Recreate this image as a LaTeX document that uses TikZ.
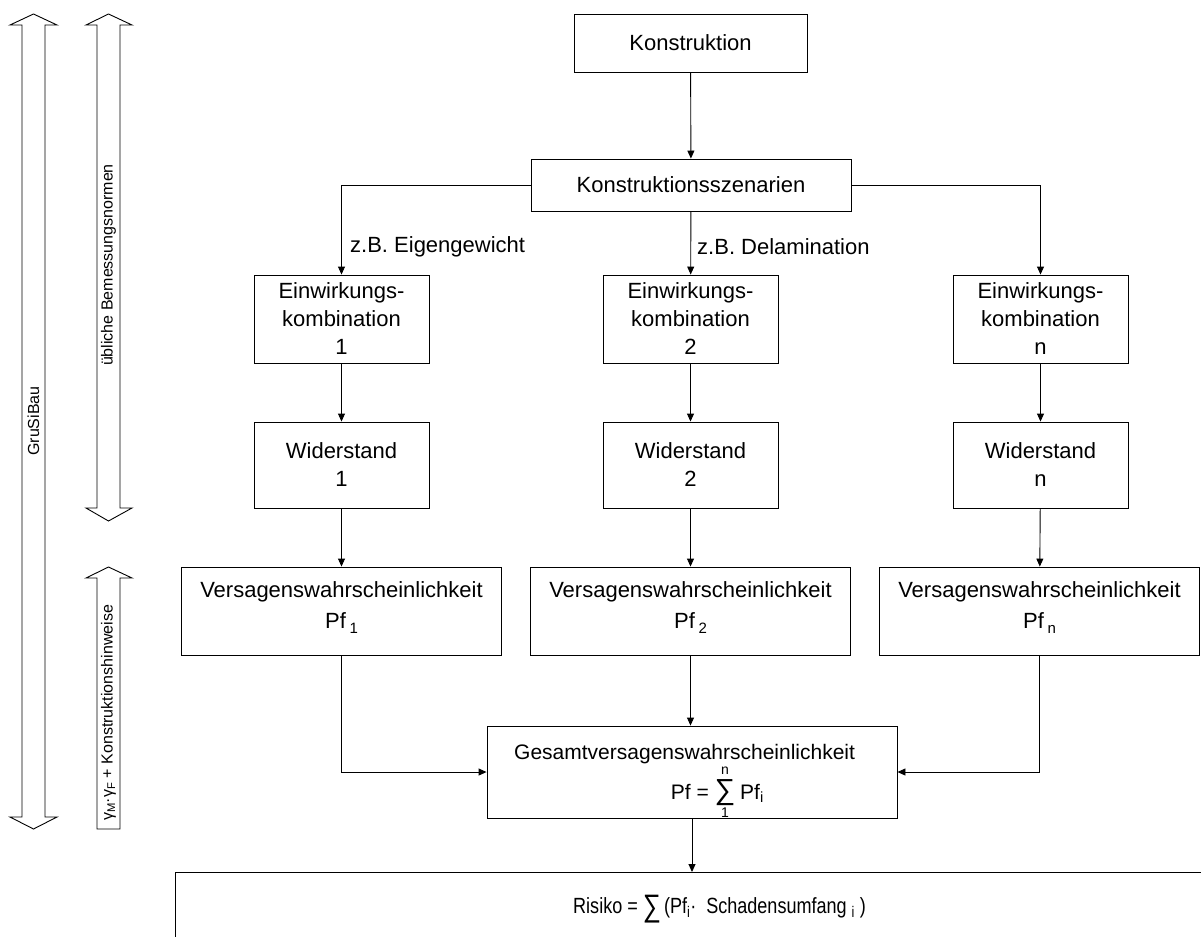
\documentclass[tikz,border=0pt]{standalone}
\usepackage{fontspec}
\setmainfont{Liberation Sans}
\usetikzlibrary{arrows.meta}
\newcommand{\mfs}{\fontsize{22}{28}\selectfont}
\newcommand{\gfs}{\fontsize{21}{28}\selectfont}
\newcommand{\sfs}{\fontsize{16}{19}\selectfont}
\tikzset{
  box/.style={draw, line width=0.9pt, align=center, inner sep=0pt, font=\mfs},
  colbox/.style={box, minimum width=175pt},
  pfbox/.style={box, minimum width=320pt, minimum height=88pt},
  conn/.style={draw, line width=0.9pt, -{Triangle[length=8pt,width=7pt]}},
  lbl/.style={font=\mfs, inner sep=0pt, anchor=west},
  side/.style={font=\sfs, inner sep=0pt, rotate=90},
  bigarrow/.style={draw, line width=0.9pt}
}
\begin{document}
\begin{tikzpicture}[x=1pt,y=-1pt]
\useasboundingbox (0,0) rectangle (1201,937);
% side arrows
\draw[bigarrow] (22,25) -- (10,25) -- (33.5,14) -- (57,25) -- (45,25) -- (45,817) -- (57,817) -- (33.5,829) -- (10,817) -- (22,817) -- cycle;
\draw[bigarrow] (97,25) -- (86,25) -- (108.5,14) -- (132,25) -- (120,25) -- (120,508) -- (132,508) -- (108.5,521) -- (86,508) -- (97,508) -- cycle;
\draw[bigarrow] (97,578) -- (86,578) -- (108.5,567) -- (132,578) -- (120,578) -- (120,829) -- (97,829) -- cycle;
\node[side] (grusi) at (33.5,421) {GruSiBau};
\node[side] (norm) at (108.5,265) {übliche Bemessungsnormen};
\node[side] (gam) at (108.5,713) {γ\textsubscript{M}·γ\textsubscript{F} + Konstruktionshinweise};
% main boxes
\node[box, minimum width=233pt, minimum height=58pt] (k) at (690.5,43) {Konstruktion};
\node[box, minimum width=320pt, minimum height=52pt] (s) at (691,185) {Konstruktionsszenarien};
\node[colbox, minimum height=88pt] (e1) at (341.5,319) {Einwirkungs-\\kombination\\1};
\node[colbox, minimum height=88pt] (e2) at (690.5,319) {Einwirkungs-\\kombination\\2};
\node[colbox, minimum height=88pt] (en) at (1040.5,319) {Einwirkungs-\\kombination\\n};
\node[colbox, minimum height=86pt] (w1) at (341.5,465) {Widerstand\\1};
\node[colbox, minimum height=86pt] (w2) at (690.5,465) {Widerstand\\2};
\node[colbox, minimum height=86pt] (wn) at (1040.5,465) {Widerstand\\n};
\node[pfbox] (p1) at (341.5,611) {};
\node[pfbox] (p2) at (690.5,611) {};
\node[pfbox] (pn) at (1039.5,611) {};
\foreach \n/\x/\s in {p1/341.5/1, p2/690.5/2, pn/1039.5/n}{
  \node[font=\mfs, inner sep=0pt] (\n t) at (\x,592) {Versagenswahrscheinlichkeit};
  \node[font=\mfs, inner sep=0pt, anchor=base] (\n f) at (\x,628) {Pf\,\raisebox{-5pt}{\fontsize{15}{17}\selectfont\s}};
}
\node[box, minimum width=410pt, minimum height=92pt] (g) at (692,772) {};
\node[font=\gfs, inner sep=0pt, anchor=west] (gt) at (514,754) {Gesamtversagenswahrscheinlichkeit};
\node[font=\gfs, inner sep=0pt, anchor=base east] (gpf) at (709,799) {Pf =};
\node[font=\fontsize{29}{32}\selectfont, inner sep=0pt] (gsum) at (725,793) {∑};
\node[font=\fontsize{14}{16}\selectfont, inner sep=0pt] (gn) at (725,771) {n};
\node[font=\fontsize{14}{16}\selectfont, inner sep=0pt] (g1) at (725,813) {1};
\node[font=\gfs, inner sep=0pt, anchor=base west] (gpfi) at (740,799) {Pf\textsubscript{i}};
% labels
\node[lbl] (l1) at (350,247) {z.B. Eigengewicht};
\node[lbl] (l2) at (697,247) {z.B. Delamination};
% Risiko
\draw[line width=0.9pt] (1201,872) -- (175,872) -- (175,937);
\coordinate (rtop) at (692,872);
\node[inner sep=0pt, anchor=base west] (r) at (573,913) {\scalebox{0.82}[1]{\mfs Risiko = \raisebox{-3pt}{\fontsize{31}{31}\selectfont ∑}\,(Pf\textsubscript{i}·\ \ Schadensumfang \textsubscript{i} )}};
% connectors
\draw[conn] (k) -- (s);
\draw[conn] (s.west) -| (e1.north);
\draw[conn] (s) -- (e2);
\draw[conn] (s.east) -| (en.north);
\draw[conn] (e1) -- (w1);
\draw[conn] (e2) -- (w2);
\draw[conn] (en) -- (wn);
\draw[conn] (w1) -- (p1);
\draw[conn] (w2) -- (p2);
\draw[conn] (wn) -- (pn);
\draw[conn] (p1.south) |- (g.west);
\draw[conn] (p2.south) -- (p2.south |- g.north);
\draw[conn] (pn.south) |- (g.east);
\draw[conn] (g.south) -- (rtop);
\end{tikzpicture}
\end{document}
